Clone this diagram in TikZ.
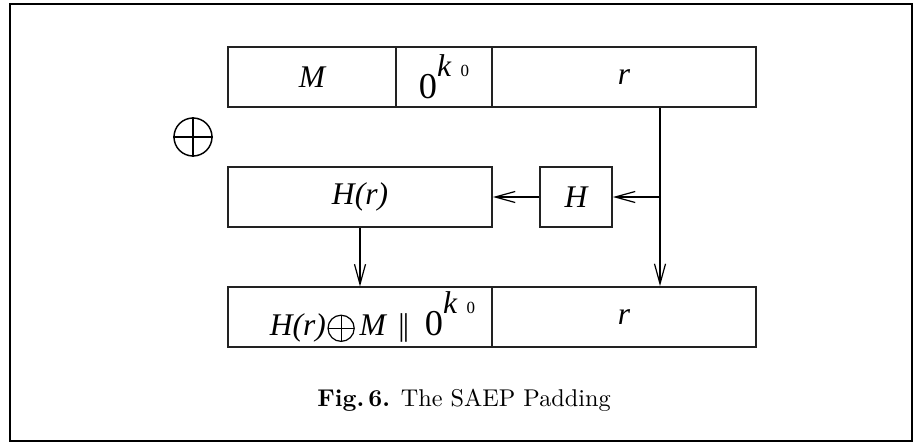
\documentclass[tikz,border=0pt]{standalone}
\usepackage{fontspec}
\newfontfamily\figfont{Liberation Serif}[ItalicFont={Liberation Serif Italic}]
\usetikzlibrary{arrows.meta}
\definecolor{sbox}{HTML}{222222}
\definecolor{sflow}{HTML}{000000}
\newcommand{\zerokzero}{{\upshape\fontsize{15}{16}\selectfont 0}\raisebox{0.7em}{k\hspace{0.3em}{\upshape\fontsize{7}{8}\selectfont 0}}}
\newcommand{\xorglyph}{\tikz[baseline=-3pt,line width=0.5pt]{\draw (0,0) circle (5.4pt); \draw (-5.4pt,0) -- (5.4pt,0) (0,-5.4pt) -- (0,5.4pt);}}
\tikzset{
  cell/.style={draw=sbox,minimum height=0.87cm,inner sep=0pt,
    font=\figfont\itshape\fontsize{13}{15}\selectfont},
  flow/.style={draw=sflow,line width=0.5pt,-{Straight Barb[length=0.29cm,width=0.16cm]}}
}
\begin{document}
\begin{tikzpicture}[x=0.0145cm,y=-0.0145cm,line width=0.75pt]
\useasboundingbox (0,0) rectangle (922,443);
\draw[line width=1.1pt] (10,4) rectangle (912,441);
% top row
\node[cell,minimum width=2.436cm] (mtop) at (312,77) {M};
\node[cell,minimum width=1.392cm] (ztop) at (444,77) {\zerokzero};
\node[cell,minimum width=3.828cm] (rtop) at (624,77) {r};
% xor sign
\node[draw,circle,minimum size=0.551cm,inner sep=0pt,line width=0.6pt] (xorsym) at (193,137) {};
\draw[line width=0.6pt] (xorsym.north) -- (xorsym.south) (xorsym.west) -- (xorsym.east);
% hash
\node[cell,minimum width=3.828cm] (hr) at (360,197) {H(r)};
\node[cell,minimum width=1.044cm] (hash) at (576,197) {H};
% bottom row
\node[cell,minimum width=3.828cm] (lo) at (360,317) {\hspace{0.36cm}H(r)\kern0.05em\xorglyph\kern0.15em M\hspace{0.4em}{\upshape|\kern-0.06em|}\hspace{0.5em}\zerokzero};
\node[cell,minimum width=3.828cm] (rlo) at (624,317) {r};
\coordinate (tap) at (660,197);
\draw[flow] (rtop.south -| tap) -- (rlo.north -| tap);
\draw[flow] (tap) -- (hash.east);
\draw[flow] (hash.west) -- (hr.east);
\draw[flow] (hr.south) -- (lo.north);
\node[anchor=base] (cap) at (464,406) {\textbf{Fig.\,6.} The SAEP Padding};
\end{tikzpicture}
\end{document}
